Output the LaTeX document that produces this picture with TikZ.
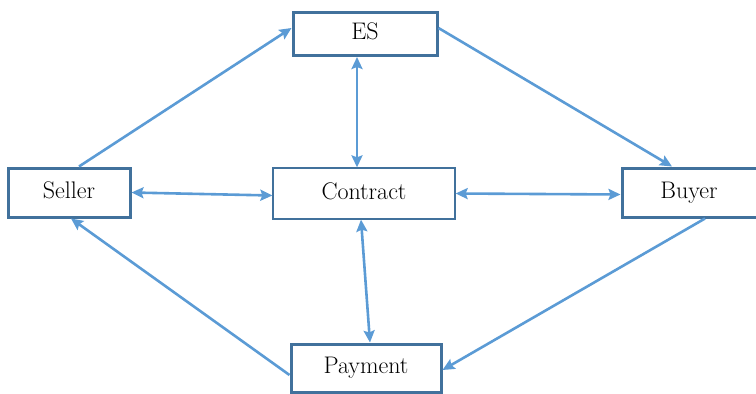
\documentclass[tikz,border=0pt]{standalone}
\usepackage{tikz}
\usetikzlibrary{arrows.meta}
\definecolor{boxc}{HTML}{41719C}
\definecolor{linkc}{HTML}{5B9BD5}
\tikzset{
  party/.style={draw=boxc, line width=3pt, fill=white, inner sep=0pt, text height=16pt, text depth=5pt, font=\fontsize{24}{28}\selectfont},
  deal/.style={party, line width=1.3pt},
  link/.style={draw=linkc, line width=2.6pt, -{Stealth[length=12pt,width=11pt,inset=2pt]}},
  twoway/.style={link, {Stealth[length=12pt,width=11pt,inset=2pt]}-{Stealth[length=12pt,width=11pt,inset=2pt]}},
}

\begin{document}
\begin{tikzpicture}[x=1pt,y=-1pt]
\useasboundingbox (0,0) rectangle (756,394);
\begin{scope}
\clip (0,0) rectangle (756,394);
\node[party, minimum width=144pt, minimum height=43pt] (es) at (365,34) {ES};
\node[party, minimum width=122pt, minimum height=49pt] (seller) at (69,192.5) {Seller};
\node[deal, minimum width=182pt, minimum height=51pt] (contract) at (364,193.5) {Contract};
\node[party, minimum width=136pt, minimum height=49pt] (buyer) at (690,192.5) {\hspace*{-2pt}Buyer};
\node[party, minimum width=150pt, minimum height=48pt] (payment) at (366,368) {Payment};
% flows round the outside
\draw[link] ([xshift=10pt]seller.north) -- ([yshift=6pt]es.west);
\draw[link] ([yshift=6pt]es.east) -- ([xshift=-18pt]buyer.north);
\draw[link] ([xshift=15pt]buyer.south) -- ([yshift=-2pt]payment.east);
\draw[link] ([yshift=-7pt]payment.west) -- ([xshift=2pt]seller.south);
% links to the contract
\draw[twoway] ([xshift=-8pt]es.south) -- ([xshift=-7pt]contract.north);
\draw[twoway] (seller.east) -- ([yshift=-2pt]contract.west);
\draw[twoway] (contract.east) -- ([yshift=-2pt]buyer.west);
\draw[twoway] ([xshift=-3pt]contract.south) -- ([xshift=4pt]payment.north);
\end{scope}
\end{tikzpicture}
\end{document}
